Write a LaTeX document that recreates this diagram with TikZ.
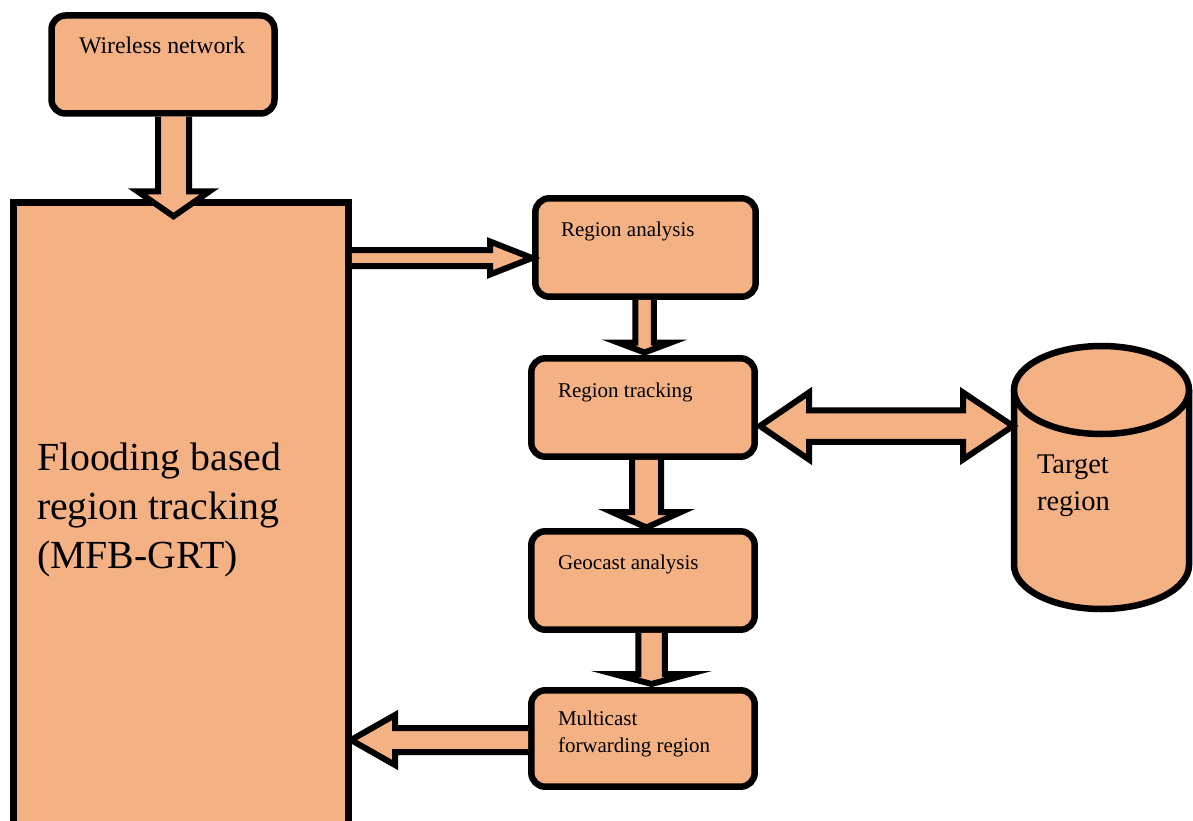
\documentclass[tikz,border=0pt]{standalone}
\usepackage{fontspec}
\setmainfont{Liberation Serif}
\usetikzlibrary{calc}
\definecolor{peach}{HTML}{F4B183}
\tikzset{
  box/.style={draw=black, fill=peach, line width=6.5pt, rounded corners=14pt, inner sep=0pt, outer sep=0pt},
  bigbox/.style={draw=black, fill=peach, line width=6.5pt, inner sep=0pt, outer sep=0pt},
  blk/.style={draw=black, fill=peach, line width=6pt, line join=miter, miter limit=20},
  lbl/.style={anchor=base west, inner sep=0pt, outer sep=0pt, font=\fontsize{21}{27}\selectfont},
}
\newcommand\blkdown[5]{%
  \filldraw[blk] ($(#1)+(-#3,0)$) -- ($(#2)+(-#3,#5)$) -- ($(#2)+(-#4,#5)$) -- (#2)
    -- ($(#2)+(#4,#5)$) -- ($(#2)+(#3,#5)$) -- ($(#1)+(#3,0)$);}
\newcommand\blkright[5]{%
  \filldraw[blk] ($(#1)+(0,#3)$) -- ($(#2)+(-#5,#3)$) -- ($(#2)+(-#5,#4)$) -- (#2)
    -- ($(#2)+(-#5,-#4)$) -- ($(#2)+(-#5,-#3)$) -- ($(#1)+(0,-#3)$);}
\newcommand\blkleft[5]{%
  \filldraw[blk] ($(#1)+(0,#3)$) -- ($(#2)+(#5,#3)$) -- ($(#2)+(#5,#4)$) -- (#2)
    -- ($(#2)+(#5,-#4)$) -- ($(#2)+(#5,-#3)$) -- ($(#1)+(0,-#3)$);}
\begin{document}
\begin{tikzpicture}[x=1pt,y=1pt]
\useasboundingbox (0,0) rectangle (1193,-821);
\fill[white] (0,0) rectangle (1193,-821);

% boxes
\node[box, minimum width=223pt, minimum height=98pt] (wn) at (163,-64.5) {};
\node[bigbox, minimum width=335.4pt, minimum height=640pt] (frt) at (181,-522.3) {};
\node[box, minimum width=220.4pt, minimum height=98.4pt] (ra) at (645.5,-247.5) {};
\node[box, minimum width=223.4pt, minimum height=98.4pt] (rt) at (643,-407.5) {};
\node[box, minimum width=223.4pt, minimum height=98.4pt] (ga) at (643,-580.5) {};
\node[box, minimum width=223.4pt, minimum height=96.4pt] (mc) at (643,-738.5) {};

% cylinder (target region)
\filldraw[draw=black, fill=peach, line width=6.5pt]
  (1014,-390) -- (1014,-565) arc[start angle=180, end angle=360, x radius=87.5, y radius=44] -- (1189,-390);
\filldraw[draw=black, fill=peach, line width=6.5pt] (1101.5,-390) ellipse [x radius=87.5, y radius=44];
\coordinate (tg) at (1013,-426);

% texts
\node[lbl, font=\fontsize{23.8}{28}\selectfont] (twn) at (79,-54) {Wireless network};
\node[lbl] (tra) at (561,-236) {Region analysis};
\node[lbl] (trt) at (558,-397) {Region tracking};
\node[lbl] (tga) at (558,-569) {Geocast analysis};
\node[lbl] (tmc) at (558,-725) {\vtop{\hbox{Multicast}\hbox{forwarding region}}};
\node[lbl, font=\fontsize{39.8}{49}\selectfont] (tfrt) at (37,-470)
  {\vtop{\hbox{Flooding based}\hbox{region tracking}\hbox{(MFB-GRT)}}};
\node[lbl, font=\fontsize{28.5}{37}\selectfont] (ttg) at (1037,-473) {\vtop{\hbox{Target}\hbox{region}}};

% connector coordinates
\coordinate (a1s) at ($(wn.south)+(10.5,-3.25)$);
\coordinate (a1t) at ($(frt.north)+(-7.5,-14)$);
\coordinate (a2s) at ($(frt.north east)+(3.25,-55.7)$);
\coordinate (a2t) at ($(ra.west)+(-3.3,-10.5)$);
\coordinate (a3s) at ($(ra.south)+(-1,-3.25)$);
\coordinate (a3t) at ($(rt.north)+(1.5,5.8)$);
\coordinate (a4s) at ($(rt.south)+(3.5,-3.25)$);
\coordinate (a4t) at ($(ga.north)+(3.5,3.8)$);
\coordinate (a5s) at ($(ga.south)+(8.5,-3.25)$);
\coordinate (a5t) at ($(mc.north)+(8.5,6.3)$);
\coordinate (a6s) at ($(mc.west)+(-3.25,-1.5)$);
\coordinate (a6t) at ($(frt.east |- a6s)+(2.3,0)$);
\coordinate (a7l) at ($(rt.east)+(5.3,-18.5)$);

% block arrows
\blkdown{a1s}{a1t}{15.5}{36}{25}
\blkright{a2s}{a2t}{8}{16.5}{42}
\blkdown{a3s}{a3t}{9.25}{26.5}{10}
\blkdown{a4s}{a4t}{14.5}{34.5}{15.5}
\blkdown{a5s}{a5t}{13.25}{37.5}{10}
\blkleft{a6s}{a6t}{12}{25}{44}
\filldraw[blk] (a7l) -- ($(a7l)+(49,33.5)$) -- ($(a7l)+(49,15.75)$) -- ($(tg)+(-50,15.75)$)
  -- ($(tg)+(-50,33.5)$) -- (tg) -- ($(tg)+(-50,-33.5)$) -- ($(tg)+(-50,-15.75)$)
  -- ($(a7l)+(49,-15.75)$) -- ($(a7l)+(49,-33.5)$) -- cycle;
\end{tikzpicture}
\end{document}
